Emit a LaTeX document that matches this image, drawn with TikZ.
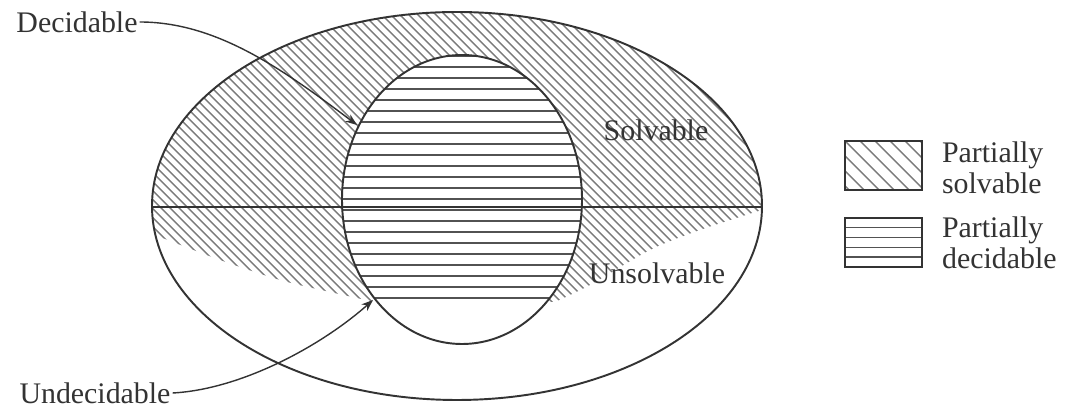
\documentclass[tikz,border=0pt]{standalone}
\usepackage{fontspec}
\setmainfont{Liberation Serif}
\usetikzlibrary{arrows.meta}
\definecolor{LineGray}{HTML}{333333}
\definecolor{HatchGray}{HTML}{7A7A7A}

\begin{document}
\begin{tikzpicture}[>=Stealth,
            outline/.style={draw=LineGray, line width=1.1pt},
            hatch/.style={HatchGray, line width=0.8pt},
            rule/.style={LineGray!85, line width=0.8pt},
            label/.style={font=\fontsize{17}{17.5}\selectfont, text=LineGray, inner sep=1pt},
            pointer/.style={->, LineGray, line width=0.8pt},
            legbox/.style={draw=LineGray, line width=0.9pt, minimum width=1.54cm,
                           minimum height=0.98cm, inner sep=0pt}]

            \useasboundingbox (0,0) rectangle (21.3,8.24);

            % regiao parcialmente resolvivel (hachura diagonal)
            \begin{scope}
                \clip (9.14,4.12) ellipse [x radius=6.10, y radius=3.88];
                \clip (2.9,8.3) -- (15.4,8.3) -- (15.4,4.10)
                      -- plot[smooth] coordinates {(15.3,4.06) (14.0,3.64) (13.0,3.24) (11.8,2.54) (11.1,2.20)}
                      -- (7.5,2.20)
                      -- plot[smooth] coordinates {(7.5,2.20) (6.6,2.40) (5.6,2.64) (4.4,3.04) (3.1,3.54)}
                      -- (2.9,3.58) -- cycle;
                \foreach \c in {-5.6,-5.42,...,15.5}
                    \draw[hatch] (\c,8.4) -- ++(8.6,-8.6);
            \end{scope}

            % regiao parcialmente decidivel (hachura horizontal)
            \fill[white] (9.24,4.25) ellipse [x radius=2.40, y radius=2.89];
            \begin{scope}
                \clip (9.24,4.25) ellipse [x radius=2.40, y radius=2.89];
                \foreach \k in {0,...,22}
                    \draw[rule] (6.7,2.28+\k*0.22) -- (11.8,2.28+\k*0.22);
            \end{scope}

            % contornos
            \draw[outline] (9.14,4.12) ellipse [x radius=6.10, y radius=3.88];
            \draw[outline] (9.24,4.25) ellipse [x radius=2.40, y radius=2.89];
            \draw[outline] (3.04,4.10) -- (15.24,4.10);

            % rotulos
            \node[label] (dec) at (1.54,7.80) {Decidable};
            \node[label] (undec) at (1.90,0.38) {Undecidable};
            \node[label] (solv) at (13.12,5.64) {Solvable};
            \node[label] (unsolv) at (13.14,2.78) {Unsolvable};

            \coordinate (decTip) at (7.14,5.74);
            \coordinate (undecTip) at (7.46,2.24);
            \draw[pointer] (dec.east) .. controls (4.3,7.80) and (5.6,6.90) .. (decTip);
            \draw[pointer] (undec.east) .. controls (4.8,0.45) and (6.4,1.30) .. (undecTip);

            % legenda
            \node[legbox, path picture={
                    \foreach \i in {0,...,9}
                        \draw[hatch] ([xshift=\i*0.3cm-1.2cm]path picture bounding box.north west) -- ++(1.3,-1.3);
                }] (leg1) at (17.67,4.93) {};
            \node[legbox, path picture={
                    \foreach \i in {1,...,4}
                        \draw[rule] ([yshift=-\i*0.196cm]path picture bounding box.north west) -- ++(2,0);
                }] (leg2) at (17.67,3.39) {};
            \node[label, anchor=west, align=left] (legTxt1) at (18.80,4.88) {Partially\\solvable};
            \node[label, anchor=west, align=left] (legTxt2) at (18.80,3.38) {Partially\\decidable};
        \end{tikzpicture}
\end{document}
